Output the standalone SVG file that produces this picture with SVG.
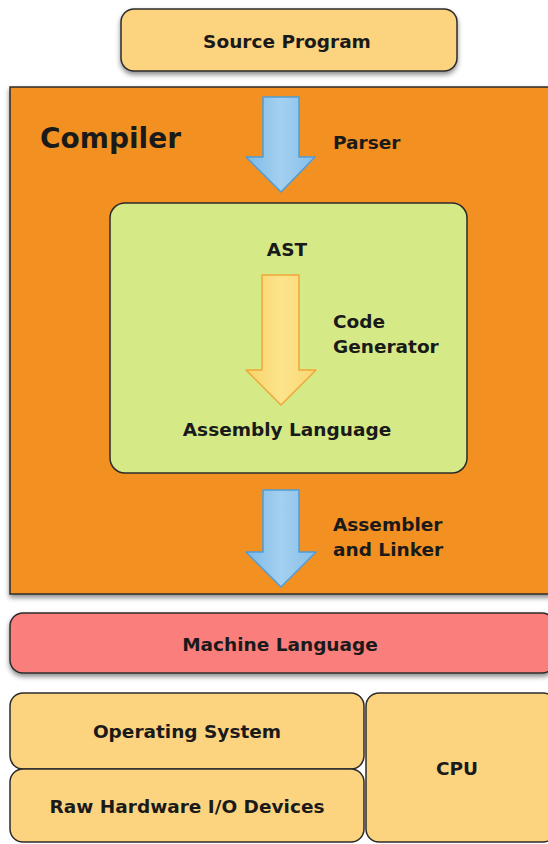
<svg xmlns="http://www.w3.org/2000/svg" width="548" height="844" viewBox="0 0 548 844">
<defs>
<filter id="sh" x="-10%" y="-20%" width="120%" height="150%">
<feDropShadow dx="0" dy="3" stdDeviation="2.5" flood-color="#000" flood-opacity="0.45"/>
</filter>
<linearGradient id="blue" x1="0" y1="0" x2="1" y2="0">
<stop offset="0" stop-color="#7DB9E6"/>
<stop offset="0.5" stop-color="#A4D0F0"/>
<stop offset="1" stop-color="#86BEE8"/>
</linearGradient>
<linearGradient id="yel" x1="0" y1="0" x2="1" y2="0">
<stop offset="0" stop-color="#F9D46A"/>
<stop offset="0.5" stop-color="#FCE38C"/>
<stop offset="1" stop-color="#F9D872"/>
</linearGradient>
</defs>
<style>
text{font-family:"DejaVu Sans","Liberation Sans",sans-serif;font-weight:bold;fill:#1a1a1a}
.box{stroke:#2b2b2b;stroke-width:1.5}
.tan{fill:#FCD480}
.lbl{font-size:18.5px}
.c{text-anchor:middle}
.barrow{fill:url(#blue);stroke:#4E9DD6;stroke-width:1.5;stroke-linejoin:round}
.yarrow{fill:url(#yel);stroke:#F0A73A;stroke-width:1.5;stroke-linejoin:round}
</style>
<rect width="548" height="844" fill="#fff"/>

<g id="source-program">
<rect class="box tan" x="121" y="9" width="336" height="62" rx="13" filter="url(#sh)"/>
<text class="lbl c" x="287" y="48">Source Program</text>
</g>

<g id="compiler">
<rect class="box" x="10" y="87" width="545" height="507" fill="#F39020" filter="url(#sh)"/>
<text x="40" y="148" font-size="28">Compiler</text>
</g>

<g id="ast-box">
<rect class="box" x="110" y="203" width="357" height="270" rx="15" fill="#D5EA86"/>
<text class="lbl c" x="287" y="256">AST</text>
<text class="lbl c" x="287" y="436">Assembly Language</text>
</g>

<g id="machine-language">
<rect class="box" x="10" y="613" width="545" height="60" rx="13" fill="#F97E7B" filter="url(#sh)"/>
<text class="lbl c" x="280" y="651">Machine Language</text>
</g>

<g id="operating-system">
<rect class="box tan" x="10" y="693" width="354" height="76" rx="13"/>
<text class="lbl c" x="187" y="738">Operating System</text>
</g>

<g id="raw-hardware">
<rect class="box tan" x="10" y="769" width="354" height="73" rx="13"/>
<text class="lbl c" x="187" y="813" font-size="19">Raw Hardware I/O Devices</text>
</g>

<g id="cpu">
<rect class="box tan" x="366" y="693" width="190" height="149" rx="13"/>
<text class="lbl c" x="457" y="775">CPU</text>
</g>

<g id="connectors">
<path class="barrow" d="M263 97 H299 V157 H315 L281 192 L246 157 H263 Z"/>
<text class="lbl" x="333" y="149">Parser</text>
<path class="yarrow" d="M262 275 H299 V370 H316 L281 405 L246 370 H262 Z"/>
<text class="lbl" x="333" y="328">Code</text>
<text class="lbl" x="333" y="353">Generator</text>
<path class="barrow" d="M263 490 H299 V552 H316 L281 587 L246 552 H263 Z"/>
<text class="lbl" x="333" y="531">Assembler</text>
<text class="lbl" x="333" y="556">and Linker</text>
</g>
</svg>
